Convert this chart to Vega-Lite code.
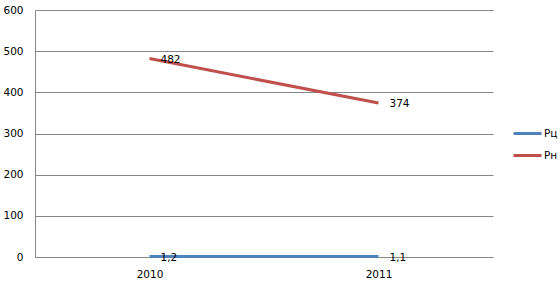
{
  "$schema": "https://vega.github.io/schema/vega-lite/v6.json",
  "autosize": {"type": "none"},
  "width": 458,
  "height": 247,
  "padding": {"left": 35, "top": 10, "right": 67, "bottom": 27},
  "background": "white",
  "config": {
    "view": {"stroke": null},
    "font": "DejaVu Sans",
    "axis": {"labelFont": "DejaVu Sans", "labelFontSize": 10.5, "labelColor": "#000000"}
  },
  "data": {
    "values": [
      {"series": "Рц", "year": "2010", "value": 1.2, "label": "1,2"},
      {"series": "Рц", "year": "2011", "value": 1.1, "label": "1,1"},
      {"series": "Рн", "year": "2010", "value": 482, "label": "482"},
      {"series": "Рн", "year": "2011", "value": 374, "label": "374"}
    ]
  },
  "encoding": {
    "x": {
      "field": "year", "type": "ordinal",
      "scale": {"type": "point", "padding": 0.5},
      "axis": {"title": null, "labelAngle": 0, "ticks": false, "domainColor": "#868686", "labelPadding": 12}
    },
    "y": {
      "field": "value", "type": "quantitative",
      "scale": {"domain": [0, 600], "nice": false},
      "axis": {"title": null, "values": [0, 100, 200, 300, 400, 500, 600], "ticks": false, "labelPadding": 12, "domainColor": "#868686", "gridColor": "#868686", "gridOpacity": 1, "domain": true}
    }
  },
  "layer": [
    {
      "mark": {"type": "line", "strokeWidth": 3},
      "encoding": {
        "color": {
          "field": "series", "type": "nominal",
          "scale": {"domain": ["Рц", "Рн"], "range": ["#4F81BD", "#C0504D"]},
          "sort": ["Рц", "Рн"],
          "legend": {
            "title": null, "orient": "none", "legendX": 477, "legendY": 108,
            "symbolType": "stroke", "symbolSize": 784, "symbolStrokeWidth": 3,
            "labelFontSize": 10.5, "labelFont": "DejaVu Sans", "labelColor": "#000000",
            "labelOffset": 1, "rowPadding": -4
          }
        }
      }
    },
    {
      "mark": {"type": "text", "align": "left", "baseline": "middle", "dx": 11, "dy": 1, "fontSize": 10.5, "color": "#000000"},
      "encoding": {"text": {"field": "label"}}
    }
  ]
}
